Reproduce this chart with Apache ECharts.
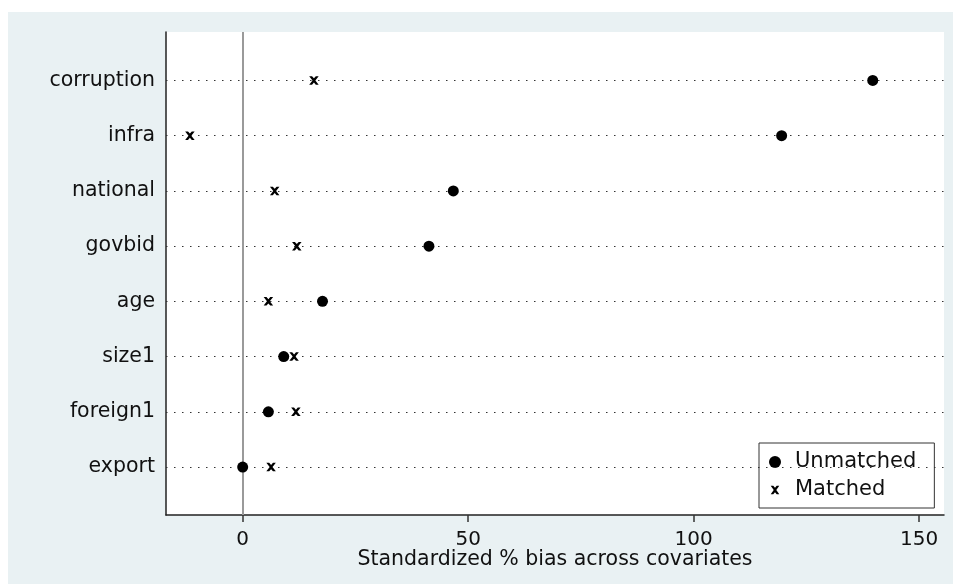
<!DOCTYPE html>
<html>
<head>
<meta charset="utf-8">
<script src="https://cdn.jsdelivr.net/npm/echarts@6/dist/echarts.min.js"></script>
<style>
  html, body { margin: 0; padding: 0; background: #ffffff; width: 953px; height: 584px; overflow: hidden; }
  #chart { position: absolute; left: 8px; top: 12px; width: 945px; height: 572px; background: #E9F1F3; }
</style>
</head>
<body>
<div id="chart"></div>
<script>
// ---- data ----
const categories = ['corruption', 'infra', 'national', 'govbid', 'age', 'size1', 'foreign1', 'export'];
const unmatched = [139.7, 119.5, 46.7, 41.3, 17.7, 9.1, 5.7, 0.0];
const matched = [15.8, -11.7, 7.1, 12.0, 5.7, 11.4, 11.8, 6.3];
const xTicks = [0, 50, 100, 150];
const xTitle = 'Standardized % bias across covariates';
const legendNames = ['Unmatched', 'Matched'];

// ---- styles ----
const FONT = 'DejaVu Sans';
const xPath = 'path://M0,0 L3,0 L5,2.5 L7,0 L10,0 L6.5,5 L10,10 L7,10 L5,7.5 L3,10 L0,10 L3.5,5 Z';
const xPathLegend = 'path://M-2,-2 M12,12 M0,0 L3,0 L5,2.5 L7,0 L10,0 L6.5,5 L10,10 L7,10 L5,7.5 L3,10 L0,10 L3.5,5 Z';
const rowIdx = categories.map((c, i) => i + 1);

const chart = echarts.init(document.getElementById('chart'), null, { renderer: 'canvas' });

const option = {
  backgroundColor: 'transparent',
  animation: false,
  textStyle: { fontFamily: FONT },
  grid: {
    left: 158, top: 20, right: 9, bottom: 69,
    show: true, backgroundColor: '#ffffff', borderWidth: 0
  },
  xAxis: {
    type: 'value',
    min: -17, max: 155.5,
    name: xTitle,
    nameLocation: 'middle',
    nameGap: 34,
    nameMoveOverlap: false,
    nameTextStyle: { fontFamily: FONT, fontSize: 20.5, color: '#111' },
    axisLine: { show: true, onZero: false, lineStyle: { color: '#222', width: 1.5 } },
    axisTick: { show: true, length: 7, customValues: xTicks, lineStyle: { color: '#333', width: 1.5 } },
    axisLabel: { customValues: xTicks, margin: 15, fontFamily: FONT, fontSize: 20, color: '#111' },
    splitLine: { show: false }
  },
  yAxis: {
    type: 'value',
    inverse: true,
    min: 0.122, max: 8.869,
    axisLine: { show: true, onZero: false, lineStyle: { color: '#222', width: 1.5 } },
    axisTick: { show: false },
    axisLabel: {
      customValues: rowIdx,
      margin: 11,
      fontFamily: FONT, fontSize: 20.5, color: '#111',
      formatter: v => categories[Math.round(v) - 1]
    },
    splitLine: { show: false }
  },
  legend: {
    orient: 'vertical',
    left: 751, top: 431,
    padding: [8, 18, 7, 10],
    backgroundColor: '#ffffff',
    borderColor: '#333',
    borderWidth: 1,
    itemWidth: 12, itemHeight: 12, itemGap: 6,
    textStyle: { fontFamily: FONT, fontSize: 21, color: '#111', lineHeight: 22, padding: [0, 0, 0, 9] },
    data: [
      { name: legendNames[0], icon: 'circle' },
      { name: legendNames[1], icon: xPathLegend }
    ]
  },
  series: [
    {
      name: 'guides',
      type: 'line',
      data: [],
      z: 1,
      silent: true,
      markLine: {
        silent: true,
        symbol: 'none',
        label: { show: false },
        animation: false,
        data: rowIdx.map(i => ({ yAxis: i, lineStyle: { type: [1.5, 6.5], color: '#333', width: 1.2 } }))
          .concat([{ xAxis: 0, lineStyle: { type: 'solid', color: '#9a9a9a', width: 2 } }])
      }
    },
    {
      name: legendNames[0],
      type: 'scatter',
      z: 5,
      symbol: 'circle',
      symbolSize: 11,
      itemStyle: { color: '#000', opacity: 1 },
      data: categories.map((c, i) => [unmatched[i], i + 1])
    },
    {
      name: legendNames[1],
      type: 'scatter',
      z: 5,
      symbol: xPath,
      symbolSize: [9.5, 8.5],
      itemStyle: { color: '#000', opacity: 1 },
      data: categories.map((c, i) => [matched[i], i + 1])
    }
  ]
};
chart.setOption(option);
</script>
</body>
</html>
